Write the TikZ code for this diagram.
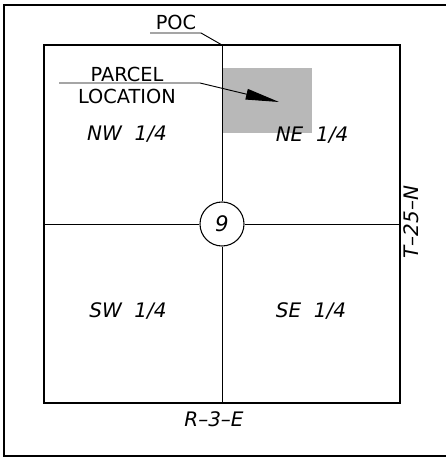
\documentclass[tikz,border=0pt]{standalone}
\usepackage{fontspec}
\setmainfont{DejaVu Sans}
\usetikzlibrary{arrows.meta}

\begin{document}
\begin{tikzpicture}[x=0.75pt,y=-0.75pt]
\useasboundingbox (0,0) rectangle (445,459);
\tikzset{
  cadtext/.style={font=\fontsize{14.5}{15}\selectfont, inner sep=0pt},
  quarter/.style={font=\fontsize{15}{15}\selectfont\itshape, inner sep=0pt},
  leader/.style={line width=0.7pt}
}
% sheet frame
\draw[line width=1pt] (4,5) rectangle (448,456);
% parcel area
\fill[black!28] (223,68) rectangle (312,133);
% section
\draw[line width=1.4pt] (44,45) rectangle (400,403);
\coordinate (poc) at (222,45);
\coordinate (south) at (222,403);
\coordinate (west) at (44,224);
\coordinate (east) at (400,224);
\node[draw, circle, line width=0.8pt, minimum size=33pt, inner sep=0pt,
  font=\fontsize{16}{16}\selectfont\itshape] (sec) at (222,224) {9};
\draw[line width=0.7pt] (poc) -- (sec);
\draw[line width=0.7pt] (sec) -- (south);
\draw[line width=0.7pt] (west) -- (sec);
\draw[line width=0.7pt] (sec) -- (east);
% quarters
\node[quarter] (nw) at (127,134) {NW\ \ 1/4};
\node[quarter] (ne) at (312,135) {NE\ \ 1/4};
\node[quarter] (sw) at (128,311) {SW\ \ 1/4};
\node[quarter] (se) at (311,311) {SE\ \ 1/4};
% township / range
\node[quarter] (range) at (214,419) {R--3--E};
\node[quarter, rotate=90] (twp) at (411,222) {T--25--N};
% point of commencement
\node[cadtext] (poclbl) at (176,22) {POC};
\coordinate (pocA) at (150,33);
\coordinate (pocB) at (201,33);
\draw[leader] (pocA) -- (pocB) -- (poc);
% parcel callout
\node[cadtext] (parcel) at (127,74) {PARCEL};
\node[cadtext] (location) at (127,96) {LOCATION};
\coordinate (plA) at (59,83);
\coordinate (plB) at (200,83);
\coordinate (pltip) at (279,102);
\draw[leader, -{Triangle[length=25pt,width=8pt]}] (plA) -- (plB) -- (pltip);
\end{tikzpicture}
\end{document}
